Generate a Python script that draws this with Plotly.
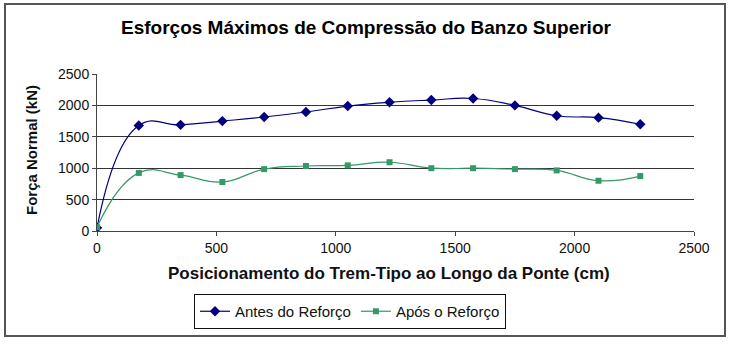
import plotly.graph_objects as go

# Truck position along the bridge (cm) and maximum compression in the top chord (kN)
posicao = [0, 175, 350, 525, 700, 875, 1050, 1225, 1400, 1575, 1750, 1925, 2100, 2275]
antes_reforco = [50, 1680, 1690, 1750, 1815, 1895, 1990, 2050, 2085, 2110, 2000, 1835, 1805, 1700]
apos_reforco = [60, 925, 890, 780, 985, 1035, 1045, 1095, 1000, 1000, 985, 965, 800, 875]

titulo = "Esforços Máximos de Compressão do Banzo Superior"
titulo_x = "Posicionamento do Trem-Tipo ao Longo da Ponte (cm)"
titulo_y = "Força Normal (kN)"

W, H = 732, 344
L, R, T, B = 97, 38, 74, 113
pw, ph = W - L - R, H - T - B


def px(x):
    return (x - L) / pw


def py(y):
    return (H - B - y) / ph


fig = go.Figure()
fig.add_trace(go.Scatter(
    x=posicao, y=antes_reforco, name="Antes do Reforço",
    mode="lines+markers", line=dict(color="#000080", width=1.2, shape="spline", smoothing=1.3),
    marker=dict(symbol="diamond", size=8, color="#000080"),
))
fig.add_trace(go.Scatter(
    x=posicao, y=apos_reforco, name="Após o Reforço",
    mode="lines+markers", line=dict(color="#339966", width=1.2, shape="spline", smoothing=1.3),
    marker=dict(symbol="square", size=6, color="#339966"),
))

font = "Liberation Sans, Arial, sans-serif"
fig.update_layout(
    width=W, height=H,
    margin=dict(l=L, r=R, t=T, b=B),
    paper_bgcolor="white", plot_bgcolor="white",
    font=dict(family=font, size=14, color="#111"),
    showlegend=True,
    legend=dict(
        orientation="h", x=px(350), xanchor="center", y=py(294), yanchor="top",
        bordercolor="#111", borderwidth=1, font=dict(size=15, color="#111"),
        itemwidth=30, tracegroupgap=0, bgcolor="white",
    ),
    xaxis=dict(
        range=[0, 2500], tickvals=[0, 500, 1000, 1500, 2000, 2500],
        showgrid=False, zeroline=False,
        showline=True, linecolor="#444", linewidth=1,
        ticks="outside", ticklen=4, tickcolor="#444",
        tickfont=dict(size=14, color="#111"),
    ),
    yaxis=dict(
        range=[0, 2500], tickvals=[0, 500, 1000, 1500, 2000, 2500],
        showgrid=True, gridcolor="#333", gridwidth=1, zeroline=False,
        showline=True, linecolor="#444", linewidth=1,
        ticks="outside", ticklen=4, tickcolor="#444",
        tickfont=dict(size=14, color="#111"),
    ),
    annotations=[
        dict(text=f"<b>{titulo}</b>", x=px(366), y=py(27), xref="paper", yref="paper",
             xanchor="center", yanchor="middle",
             showarrow=False, font=dict(size=19, color="#000")),
        dict(text=f"<b>{titulo_x}</b>", x=px(389), y=py(273), xref="paper", yref="paper",
             xanchor="center", yanchor="middle",
             showarrow=False, font=dict(size=17, color="#111")),
        dict(text=f"<b>{titulo_y}</b>", x=px(31), y=py(150), xref="paper", yref="paper",
             xanchor="center", yanchor="middle",
             showarrow=False, textangle=-90, font=dict(size=15, color="#111")),
    ],
    shapes=[
        dict(type="rect", xref="paper", yref="paper",
             x0=px(5), x1=px(725), y0=py(336), y1=py(4),
             line=dict(color="#555", width=2)),
    ],
)

fig.write_html("out.html")
